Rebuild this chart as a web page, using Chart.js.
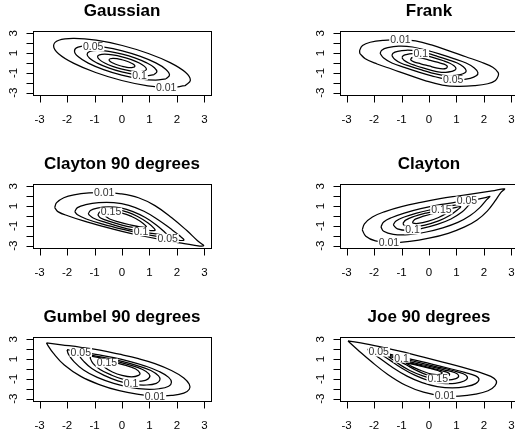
<!DOCTYPE html>
<html>
<head>
<meta charset="utf-8">
<script src="https://cdn.jsdelivr.net/npm/chart.js@4.4.1/dist/chart.umd.min.js"></script>
<style>
  html, body { margin: 0; padding: 0; background: #fff; overflow: hidden; }
  #page { position: relative; width: 515px; height: 439px; overflow: hidden; background: #fff; }
  #page canvas { position: absolute; }
</style>
</head>
<body>
<div id="page"></div>
<script>
/* ================================
   Data
================================ */
const titles = ["Gaussian", "Frank", "Clayton 90 degrees", "Clayton", "Gumbel 90 degrees", "Joe 90 degrees"];
const xTicks = [-3, -2, -1, 0, 1, 2, 3];
const xTickLabels = ["-3", "-2", "-1", "0", "1", "2", "3"];
const yTicks = [-3, -2, -1, 0, 1, 2, 3];
const yTickLabels = ["-3", "", "-1", "", "1", "", "3"];
const axisLimits = [-3.24, 3.24];

// Gaussian
const gauss001 = [[2.30,-2.30],[2.49,-1.75],[2.31,-0.94],[1.77,0.01],[0.96,0.96],[0.01,1.77],[-0.94,2.31],[-1.75,2.49],[-2.30,2.30],[-2.49,1.75],[-2.31,0.94],[-1.77,-0.01],[-0.96,-0.96],[-0.01,-1.77],[0.94,-2.31],[1.75,-2.49],[2.30,-2.30]];
const gauss005 = [[1.60,-1.60],[1.73,-1.22],[1.60,-0.65],[1.23,0.01],[0.67,0.67],[0.01,1.23],[-0.65,1.60],[-1.22,1.73],[-1.60,1.60],[-1.73,1.22],[-1.60,0.65],[-1.23,-0.01],[-0.67,-0.67],[-0.01,-1.23],[0.65,-1.60],[1.22,-1.73],[1.60,-1.60]];
const gauss010 = [[1.17,-1.17],[1.27,-0.89],[1.18,-0.48],[0.90,0.01],[0.49,0.49],[0.01,0.90],[-0.48,1.18],[-0.89,1.27],[-1.17,1.17],[-1.27,0.89],[-1.18,0.48],[-0.90,-0.01],[-0.49,-0.49],[-0.01,-0.90],[0.48,-1.18],[0.89,-1.27],[1.17,-1.17]];
const gauss015 = [[0.82,-0.82],[0.89,-0.63],[0.82,-0.34],[0.63,0.00],[0.34,0.34],[0.00,0.63],[-0.34,0.82],[-0.63,0.89],[-0.82,0.82],[-0.89,0.63],[-0.82,0.34],[-0.63,0.00],[-0.34,-0.34],[0.00,-0.63],[0.34,-0.82],[0.63,-0.89],[0.82,-0.82]];
const gauss020 = [[0.43,-0.43],[0.47,-0.33],[0.44,-0.18],[0.33,0.00],[0.18,0.18],[0.00,0.33],[-0.18,0.44],[-0.33,0.47],[-0.43,0.43],[-0.47,0.33],[-0.44,0.18],[-0.33,0.00],[-0.18,-0.18],[0.00,-0.33],[0.18,-0.44],[0.33,-0.47],[0.43,-0.43]];
const gaussLabels = [["0.05",-1.05,1.66],["0.1",0.64,-1.25],["0.01",1.61,-2.47]];

// Frank
const frank001 = [[-2.52,0.97],[-2.52,1.30],[-2.42,1.77],[-2.14,2.10],[-1.65,2.30],[-1.04,2.37],[-0.49,2.23],[0.12,1.80],[0.73,1.23],[1.34,0.63],[1.89,0.10],[2.32,-0.43],[2.52,-0.97],[2.52,-1.30],[2.42,-1.77],[2.14,-2.10],[1.65,-2.30],[1.04,-2.37],[0.49,-2.23],[-0.12,-1.80],[-0.73,-1.23],[-1.34,-0.63],[-1.89,-0.10],[-2.32,0.43],[-2.52,0.97]];
const frank005 = [[-1.78,0.97],[-1.72,1.30],[-1.50,1.55],[-1.10,1.70],[-0.60,1.62],[-0.10,1.30],[0.40,0.90],[0.90,0.45],[1.35,0.00],[1.65,-0.50],[1.78,-0.97],[1.72,-1.30],[1.50,-1.55],[1.10,-1.70],[0.60,-1.62],[0.10,-1.30],[-0.40,-0.90],[-0.90,-0.45],[-1.35,0.00],[-1.65,0.50],[-1.78,0.97]];
const frank010 = [[-1.35,0.74],[-1.31,0.99],[-1.14,1.18],[-0.84,1.29],[-0.46,1.23],[-0.08,0.99],[0.30,0.68],[0.68,0.34],[1.03,0.00],[1.25,-0.38],[1.35,-0.74],[1.31,-0.99],[1.14,-1.18],[0.84,-1.29],[0.46,-1.23],[0.08,-0.99],[-0.30,-0.68],[-0.68,-0.34],[-1.03,0.00],[-1.25,0.38],[-1.35,0.74]];
const frank015 = [[-0.98,0.53],[-0.95,0.72],[-0.83,0.85],[-0.61,0.94],[-0.33,0.89],[-0.06,0.72],[0.22,0.50],[0.50,0.25],[0.74,0.00],[0.91,-0.28],[0.98,-0.53],[0.95,-0.72],[0.83,-0.85],[0.61,-0.94],[0.33,-0.89],[0.06,-0.72],[-0.22,-0.50],[-0.50,-0.25],[-0.74,0.00],[-0.91,0.28],[-0.98,0.53]];
const frank020 = [[-0.66,0.42],[-0.62,0.55],[-0.50,0.60],[-0.30,0.52],[0.00,0.30],[0.30,0.08],[0.55,-0.12],[0.66,-0.30],[0.66,-0.42],[0.62,-0.55],[0.50,-0.60],[0.30,-0.52],[0.00,-0.30],[-0.30,-0.08],[-0.55,0.12],[-0.66,0.30],[-0.66,0.42]];
const frankLabels = [["0.01",-1.04,2.35],["0.1",-0.30,0.95],["0.05",0.88,-1.68]];

// Clayton 90 degrees
const c90001 = [[-2.45,0.85],[-2.38,1.35],[-2.12,1.85],[-1.75,2.15],[-1.20,2.33],[-0.60,2.35],[-0.05,2.25],[0.60,1.85],[1.20,1.05],[1.80,-0.15],[2.35,-1.45],[2.75,-2.50],[2.97,-3.02],[2.60,-2.95],[2.10,-2.72],[1.40,-2.38],[0.70,-2.00],[0.00,-1.55],[-0.70,-1.05],[-1.40,-0.50],[-1.95,0.00],[-2.32,0.42],[-2.45,0.85]];
const c90005 = [[-1.72,0.45],[-1.62,0.85],[-1.32,1.15],[-0.85,1.35],[-0.30,1.35],[0.25,1.08],[0.80,0.48],[1.30,-0.35],[1.75,-1.25],[2.10,-2.00],[2.25,-2.45],[1.95,-2.40],[1.40,-2.12],[0.70,-1.78],[0.00,-1.33],[-0.70,-0.82],[-1.30,-0.30],[-1.62,0.12],[-1.72,0.45]];
const c90010 = [[-1.23,0.20],[-1.15,0.55],[-0.90,0.80],[-0.50,0.92],[-0.05,0.82],[0.40,0.45],[0.85,-0.15],[1.25,-0.90],[1.52,-1.55],[1.62,-1.90],[1.35,-1.85],[0.70,-1.60],[0.00,-1.15],[-0.60,-0.65],[-1.05,-0.20],[-1.23,0.20]];
const c90015 = [[-0.88,0.10],[-0.80,0.42],[-0.55,0.60],[-0.20,0.62],[0.20,0.40],[0.60,-0.10],[0.95,-0.70],[1.15,-1.20],[1.20,-1.45],[0.95,-1.45],[0.50,-1.22],[0.00,-0.92],[-0.45,-0.55],[-0.78,-0.20],[-0.88,0.10]];
const c90020 = [[-0.60,-0.02],[-0.52,0.25],[-0.30,0.38],[0.00,0.30],[0.35,-0.05],[0.65,-0.50],[0.85,-0.95],[0.88,-1.12],[0.65,-1.10],[0.30,-0.90],[-0.10,-0.62],[-0.45,-0.30],[-0.60,-0.02]];
const c90Labels = [["0.01",-0.65,2.34],["0.15",-0.40,0.40],["0.1",0.69,-1.58],["0.05",1.66,-2.26]];

// Clayton
const clay001 = [[-2.43,-1.40],[-2.35,-0.80],[-2.06,-0.10],[-1.60,0.45],[-1.00,0.95],[-0.30,1.38],[0.40,1.75],[1.10,2.05],[1.70,2.30],[2.30,2.55],[2.75,2.75],[2.62,2.40],[2.40,1.50],[2.12,0.50],[1.75,-0.40],[1.30,-1.10],[0.70,-1.75],[0.00,-2.25],[-0.70,-2.58],[-1.40,-2.70],[-1.95,-2.52],[-2.30,-2.05],[-2.43,-1.40]];
const clay005 = [[-1.75,-1.10],[-1.65,-0.60],[-1.35,-0.15],[-0.90,0.30],[-0.30,0.75],[0.40,1.15],[1.00,1.40],[1.60,1.62],[2.05,1.85],[2.22,2.00],[2.10,1.65],[1.85,0.85],[1.50,0.05],[1.05,-0.65],[0.50,-1.20],[-0.10,-1.62],[-0.75,-1.88],[-1.30,-1.85],[-1.65,-1.55],[-1.75,-1.10]];
const clay010 = [[-1.30,-0.90],[-1.20,-0.50],[-0.90,-0.10],[-0.45,0.30],[0.10,0.65],[0.70,0.98],[1.20,1.20],[1.55,1.40],[1.45,1.10],[1.20,0.40],[0.80,-0.30],[0.30,-0.85],[-0.25,-1.25],[-0.75,-1.45],[-1.15,-1.30],[-1.30,-0.90]];
const clay015 = [[-0.95,-0.75],[-0.85,-0.42],[-0.55,-0.05],[-0.10,0.30],[0.45,0.62],[0.95,0.85],[1.15,0.95],[1.05,0.65],[0.75,0.05],[0.35,-0.50],[-0.15,-0.92],[-0.60,-1.10],[-0.88,-1.00],[-0.95,-0.75]];
const clay020 = [[-0.60,-0.60],[-0.50,-0.32],[-0.20,-0.02],[0.20,0.28],[0.60,0.50],[0.78,0.58],[0.65,0.30],[0.35,-0.15],[-0.05,-0.55],[-0.40,-0.75],[-0.58,-0.72],[-0.60,-0.60]];
const clayLabels = [["0.05",1.38,1.52],["0.15",0.45,0.62],["0.1",-0.60,-1.40],["0.01",-1.46,-2.68]];

// Gumbel 90 degrees
const gum001 = [[-2.75,2.65],[-2.20,2.45],[-1.50,2.20],[-0.80,1.90],[-0.10,1.50],[0.60,1.05],[1.20,0.55],[1.80,-0.15],[2.25,-0.90],[2.45,-1.55],[2.45,-2.05],[2.25,-2.45],[1.80,-2.68],[1.20,-2.75],[0.55,-2.55],[-0.10,-2.20],[-0.80,-1.60],[-1.50,-0.75],[-2.10,0.40],[-2.50,1.60],[-2.70,2.40],[-2.75,2.65]];
const gum005 = [[-2.00,1.95],[-1.50,1.72],[-0.90,1.45],[-0.30,1.15],[0.30,0.75],[0.85,0.30],[1.35,-0.25],[1.70,-0.85],[1.80,-1.35],[1.70,-1.75],[1.35,-2.00],[0.85,-2.05],[0.30,-1.85],[-0.30,-1.45],[-0.90,-0.85],[-1.40,-0.10],[-1.75,0.75],[-1.95,1.50],[-2.00,1.95]];
const gum010 = [[-1.55,1.60],[-1.10,1.38],[-0.55,1.10],[0.00,0.78],[0.55,0.35],[1.05,-0.15],[1.33,-0.70],[1.38,-1.10],[1.25,-1.45],[0.90,-1.62],[0.40,-1.55],[-0.15,-1.20],[-0.65,-0.65],[-1.10,0.05],[-1.40,0.80],[-1.55,1.35],[-1.55,1.60]];
const gum015 = [[-1.15,1.30],[-0.70,1.08],[-0.20,0.78],[0.30,0.40],[0.75,-0.05],[0.98,-0.50],[1.00,-0.85],[0.85,-1.15],[0.50,-1.25],[0.05,-1.05],[-0.40,-0.60],[-0.80,-0.05],[-1.05,0.55],[-1.15,1.05],[-1.15,1.30]];
const gum020 = [[-0.75,0.95],[-0.35,0.72],[0.10,0.40],[0.50,0.00],[0.65,-0.40],[0.60,-0.65],[0.35,-0.80],[0.00,-0.65],[-0.35,-0.30],[-0.62,0.15],[-0.75,0.65],[-0.75,0.95]];
const gumLabels = [["0.05",-1.50,1.68],["0.15",-0.55,0.60],["0.1",0.33,-1.45],["0.01",1.20,-2.75]];

// Joe 90 degrees
const joe001 = [[-2.95,2.85],[-2.30,2.55],[-1.60,2.15],[-0.90,1.70],[-0.20,1.20],[0.50,0.70],[1.20,0.20],[1.80,-0.30],[2.25,-0.75],[2.45,-1.20],[2.40,-1.70],[2.15,-2.20],[1.70,-2.55],[1.10,-2.75],[0.45,-2.70],[-0.20,-2.35],[-0.85,-1.65],[-1.50,-0.55],[-2.10,0.75],[-2.60,1.95],[-2.88,2.65],[-2.95,2.85]];
const joe005 = [[-2.25,2.00],[-1.80,1.72],[-1.20,1.35],[-0.55,0.92],[0.10,0.50],[0.75,0.05],[1.30,-0.35],[1.70,-0.70],[1.82,-1.05],[1.70,-1.48],[1.35,-1.78],[0.85,-1.92],[0.30,-1.78],[-0.25,-1.38],[-0.80,-0.72],[-1.35,0.20],[-1.85,1.20],[-2.15,1.80],[-2.25,2.00]];
const joe010 = [[-1.85,1.65],[-1.40,1.35],[-0.90,1.02],[-0.35,0.65],[0.25,0.25],[0.85,-0.15],[1.25,-0.48],[1.40,-0.85],[1.28,-1.22],[0.95,-1.45],[0.50,-1.45],[0.00,-1.18],[-0.50,-0.65],[-1.00,0.10],[-1.45,0.95],[-1.75,1.50],[-1.85,1.65]];
const joe015 = [[-1.50,1.30],[-1.05,0.98],[-0.50,0.60],[0.05,0.25],[0.55,-0.08],[0.95,-0.38],[1.08,-0.68],[0.98,-0.97],[0.65,-1.12],[0.25,-1.05],[-0.20,-0.72],[-0.70,-0.15],[-1.15,0.60],[-1.42,1.15],[-1.50,1.30]];
const joe020 = [[-1.15,0.92],[-0.70,0.62],[-0.20,0.30],[0.30,-0.05],[0.65,-0.32],[0.75,-0.55],[0.62,-0.78],[0.30,-0.85],[-0.05,-0.62],[-0.45,-0.15],[-0.85,0.45],[-1.10,0.82],[-1.15,0.92]];
const joe025 = [[-0.85,0.62],[-0.45,0.38],[0.00,0.08],[0.35,-0.18],[0.48,-0.38],[0.38,-0.55],[0.10,-0.52],[-0.25,-0.20],[-0.60,0.22],[-0.82,0.55],[-0.85,0.62]];
const joeLabels = [["0.05",-1.83,1.72],["0.1",-1.00,1.10],["0.15",0.32,-1.02],["0.01",0.58,-2.72]];

/* ================================
   Panels
================================ */
const panels = [
  { row: 0, col: 0, contours: [gauss001, gauss005, gauss010, gauss015, gauss020], labels: gaussLabels },
  { row: 0, col: 1, contours: [frank001, frank005, frank010, frank015, frank020], labels: frankLabels },
  { row: 1, col: 0, contours: [c90001, c90005, c90010, c90015, c90020], labels: c90Labels },
  { row: 1, col: 1, contours: [clay001, clay005, clay010, clay015, clay020], labels: clayLabels },
  { row: 2, col: 0, contours: [gum001, gum005, gum010, gum015, gum020], labels: gumLabels },
  { row: 2, col: 1, contours: [joe001, joe005, joe010, joe015, joe020, joe025], labels: joeLabels }
];

const FONT = "'Liberation Sans', Arial, Helvetica, sans-serif";

/* ================================
   R-style box, axes, contour labels
================================ */
const rAxes = {
  id: "rAxes",
  afterDatasetsDraw(chart, args, opts) {
    const { ctx, chartArea: a } = chart;
    const xs = chart.scales.x, ys = chart.scales.y;
    const L = Math.round(a.left) + 0.5, R = Math.round(a.right) + 0.5;
    const T = Math.round(a.top) + 0.5, B = Math.round(a.bottom) + 0.5;

    ctx.save();

    // contour labels, breaking the line under them
    ctx.font = "10.5px " + FONT;
    ctx.textAlign = "center";
    ctx.textBaseline = "middle";
    opts.labels.forEach(([txt, x, y]) => {
      const px = xs.getPixelForValue(x), py = ys.getPixelForValue(y);
      const w = ctx.measureText(txt).width;
      ctx.fillStyle = "#fff";
      ctx.fillRect(px - w / 2 - 1, py - 4.5, w + 2, 9);
      ctx.fillStyle = "#333";
      ctx.fillText(txt, px, py + 0.5);
    });

    // box
    ctx.strokeStyle = "#000";
    ctx.lineWidth = 1;
    ctx.strokeRect(L, T, R - L, B - T);

    // x axis ticks + y axis ticks
    ctx.beginPath();
    xTicks.forEach(v => {
      const px = Math.round(xs.getPixelForValue(v)) + 0.5;
      ctx.moveTo(px, B);
      ctx.lineTo(px, B + 7);
    });
    yTicks.forEach(v => {
      const py = Math.round(ys.getPixelForValue(v)) + 0.5;
      ctx.moveTo(L, py);
      ctx.lineTo(L - 7, py);
    });
    ctx.stroke();

    ctx.fillStyle = "#000";
    ctx.font = "11.5px " + FONT;
    ctx.textAlign = "center";
    ctx.textBaseline = "middle";
    xTicks.forEach((v, i) => {
      ctx.fillText(xTickLabels[i], xs.getPixelForValue(v), B + 24);
    });
    yTicks.forEach((v, i) => {
      if (!yTickLabels[i]) return;
      ctx.save();
      ctx.translate(L - 20, ys.getPixelForValue(v));
      ctx.rotate(-Math.PI / 2);
      ctx.fillText(yTickLabels[i], 0, 0);
      ctx.restore();
    });

    ctx.restore();
  }
};

/* ================================
   Build charts
================================ */
const page = document.getElementById("page");

panels.forEach((p, i) => {
  const canvas = document.createElement("canvas");
  canvas.width = 300;
  canvas.height = 153;
  canvas.style.width = "300px";
  canvas.style.height = "153px";
  canvas.style.left = (p.col * 307) + "px";
  canvas.style.top = (p.row * 153) + "px";
  page.appendChild(canvas);

  new Chart(canvas, {
    type: "scatter",
    data: {
      datasets: p.contours.map(pts => ({
        data: pts.map(([x, y]) => ({ x, y })),
        showLine: true,
        borderColor: "#000",
        borderWidth: 1.25,
        pointRadius: 0,
        tension: 0.4,
        fill: false
      }))
    },
    options: {
      responsive: false,
      animation: false,
      devicePixelRatio: 1,
      events: [],
      layout: { padding: { left: 33, right: 89, top: 0, bottom: 58 } },
      plugins: {
        legend: { display: false },
        tooltip: { enabled: false },
        title: {
          display: true,
          text: titles[i],
          color: "#000",
          font: { family: FONT, size: 17, weight: "bold" },
          padding: { top: 1.3, bottom: 9.3 }
        },
        rAxes: { labels: p.labels }
      },
      scales: {
        x: { type: "linear", min: axisLimits[0], max: axisLimits[1], display: false },
        y: { type: "linear", min: axisLimits[0], max: axisLimits[1], display: false }
      }
    },
    plugins: [rAxes]
  });
});
</script>
</body>
</html>
